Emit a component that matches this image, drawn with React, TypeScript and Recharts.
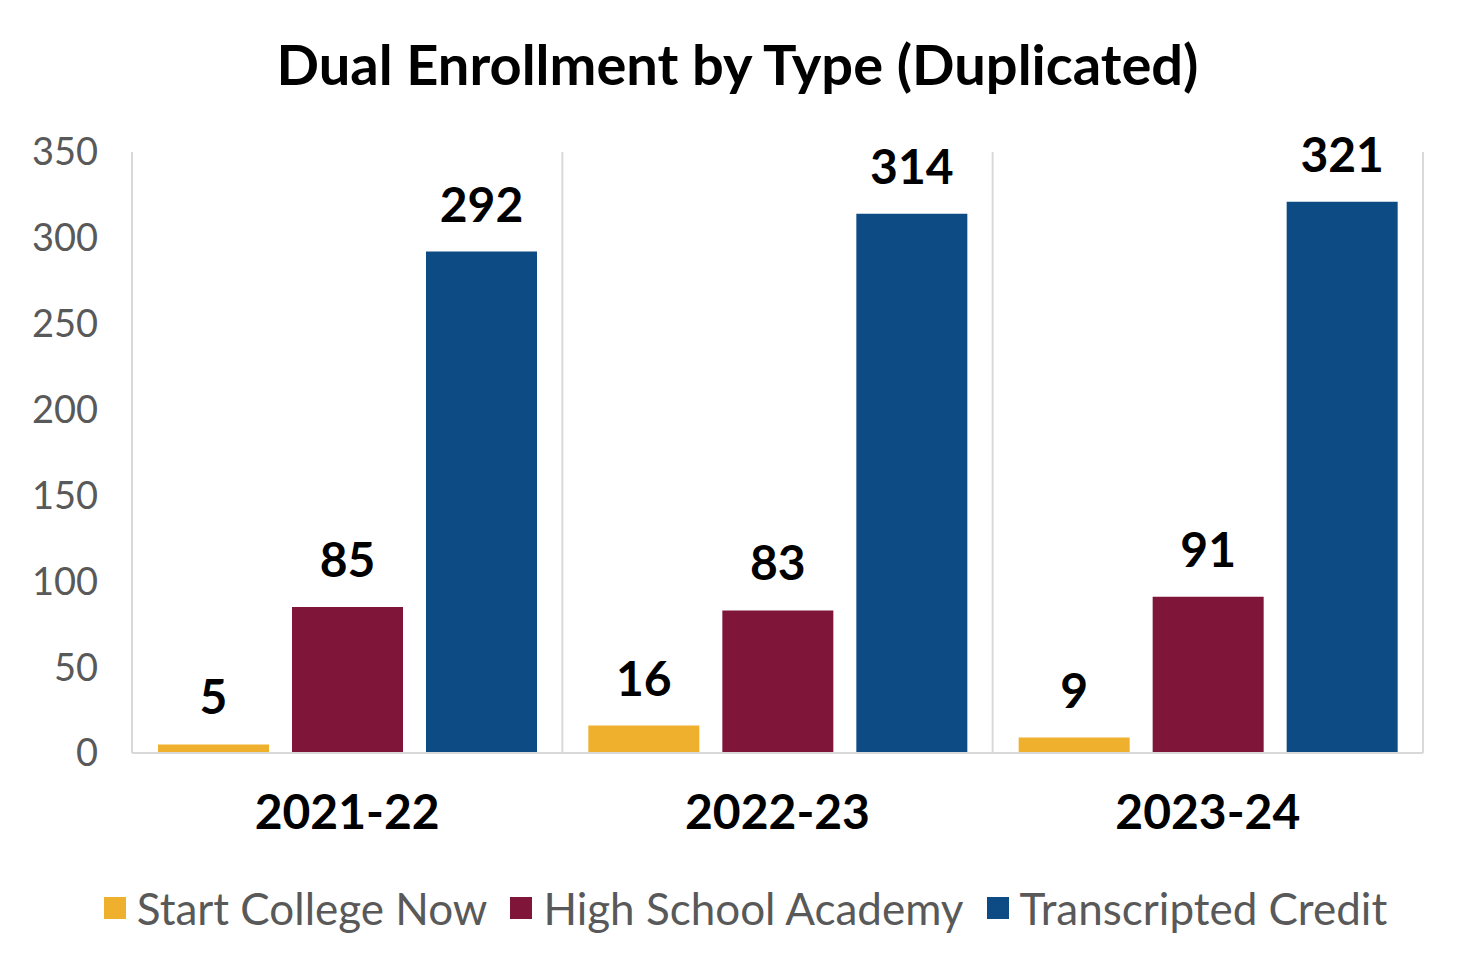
import React from "react";
import {
  BarChart,
  Bar,
  XAxis,
  YAxis,
  Legend,
  LabelList,
  CartesianGrid,
} from "recharts";

const categories = ["2021-22", "2022-23", "2023-24"];
const startCollegeNow = [5, 16, 9];
const highSchoolAcademy = [85, 83, 91];
const transcriptedCredit = [292, 314, 321];
const yTicks = [0, 50, 100, 150, 200, 250, 300, 350];

const seriesNames = ["Start College Now", "High School Academy", "Transcripted Credit"];
const seriesColors = ["#EFB02E", "#7F1538", "#0C4B84"];

const data = categories.map((c, i) => ({
  year: c,
  s: startCollegeNow[i],
  h: highSchoolAcademy[i],
  t: transcriptedCredit[i],
}));

const FONT = "Lato, 'Open Sans', sans-serif";

const LegendContent = () => (
  <div
    style={{
      display: "flex",
      justifyContent: "center",
      alignItems: "center",
      fontFamily: FONT,
      fontSize: 44,
      color: "#595959",
      height: 60,
      paddingLeft: 16,
    }}
  >
    {seriesNames.map((n, i) => (
      <div key={n} style={{ display: "flex", alignItems: "center", marginRight: i < 2 ? 23 : 0 }}>
        <div style={{ width: 22, height: 22, background: seriesColors[i], marginRight: 11 }} />
        <span>{n}</span>
      </div>
    ))}
  </div>
);

// vertical separators at category boundaries, derived from the plot area
const boundaryLines = ({ offset }: any) => {
  const n = categories.length;
  const out: number[] = [];
  for (let i = 0; i <= n; i++) out.push(offset.left + (offset.width * i) / n);
  return out;
};

export default function App() {
  const keys = ["s", "h", "t"];
  return (
    <div style={{ position: "relative", width: 1475, height: 973, margin: "-8px 0 0 -8px", background: "#fff" }}>
      <div
        style={{
          position: "absolute",
          top: 30,
          left: 0,
          width: 1475,
          textAlign: "center",
          fontFamily: FONT,
          fontWeight: 700,
          fontSize: 56,
          color: "#000",
          lineHeight: "68px",
        }}
      >
        Dual Enrollment by Type (Duplicated)
      </div>
      <BarChart
        width={1475}
        height={973}
        data={data}
        margin={{ top: 152, right: 52, left: 0, bottom: 20 }}
        barCategoryGap={26}
        barGap={23}
      >
        <CartesianGrid
          horizontal={false}
          stroke="#D9D9D9"
          strokeWidth={2}
          verticalCoordinatesGenerator={boundaryLines}
        />
        <XAxis
          dataKey="year"
          axisLine={{ stroke: "#D9D9D9", strokeWidth: 2 }}
          tickLine={false}
          tickMargin={36}
          height={125}
          tick={{ fontSize: 48, fontWeight: 700, fill: "#000", fontFamily: FONT }}
        />
        <YAxis
          width={132}
          domain={[0, 350]}
          ticks={yTicks}
          axisLine={{ stroke: "#D9D9D9", strokeWidth: 2 }}
          tickLine={false}
          tickMargin={28}
          tick={{ fontSize: 38, fill: "#595959", fontFamily: FONT }}
        />
        {keys.map((k, i) => (
          <Bar key={k} dataKey={k} name={seriesNames[i]} fill={seriesColors[i]} isAnimationActive={false}>
            <LabelList
              dataKey={k}
              position="top"
              offset={30}
              style={{ fontSize: 48, fontWeight: 700, fill: "#000", fontFamily: FONT }}
            />
          </Bar>
        ))}
        <Legend
          verticalAlign="bottom"
          height={75}
          wrapperStyle={{ left: 0, width: 1475 }}
          content={<LegendContent />}
        />
      </BarChart>
    </div>
  );
}
